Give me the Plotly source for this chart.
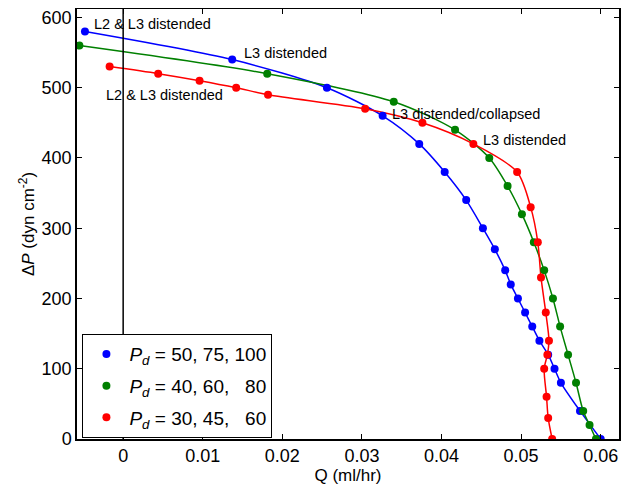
import plotly.graph_objects as go

# Pd = 50, 75, 100
q_blue = [-0.0048, 0.0137, 0.0256, 0.0326, 0.0372, 0.0404, 0.0431, 0.0452, 0.0467, 0.0480,
          0.0487, 0.0496, 0.0505, 0.0514, 0.0523, 0.0534, 0.0542, 0.0550, 0.0574, 0.0600]
p_blue = [580, 540, 500, 460, 420, 380, 340, 300, 270, 240,
          220, 200, 180, 160, 140, 120, 100, 80, 40, 0]

# Pd = 40, 60, 80
q_green = [-0.0055, 0.0181, 0.0340, 0.0417, 0.0460, 0.0483, 0.0501, 0.0516, 0.0529,
           0.0540, 0.0549, 0.0559, 0.0569, 0.0578, 0.0586, 0.0594]
p_green = [560, 520, 480, 440, 400, 360, 320, 280, 240,
           200, 160, 120, 80, 40, 20, 0]

# Pd = 30, 45, 60
q_red = [-0.0017, 0.0044, 0.0096, 0.0142, 0.0182, 0.0304, 0.0376, 0.0440, 0.0495,
         0.0512, 0.0521, 0.0525, 0.0531, 0.0535, 0.0533, 0.0529, 0.0532, 0.0534, 0.0539]
p_red = [530, 520, 510, 500, 490, 470, 450, 420, 380,
         330, 280, 230, 180, 140, 120, 100, 60, 30, 0]

series_names = ["<i>P<sub>d</sub></i> = 50, 75, 100",
                "<i>P<sub>d</sub></i> = 40, 60, \u00a0\u00a080",
                "<i>P<sub>d</sub></i> = 30, 45, \u00a0\u00a060"]
colors = ["#0000FF", "#008000", "#FF0000"]

x_ticks = [0, 0.01, 0.02, 0.03, 0.04, 0.05, 0.06]
x_ticklabels = ["0", "0.01", "0.02", "0.03", "0.04", "0.05", "0.06"]
y_ticks = [0, 100, 200, 300, 400, 500, 600]

notes = [
    ("L2 & L3 distended", -0.0039, 591),
    ("L3 distended", 0.0149, 549),
    ("L2 & L3 distended", -0.0024, 489),
    ("L3 distended/collapsed", 0.0335, 463),
    ("L3 distended", 0.0449, 425),
]

FONT = "Liberation Sans, Arial, sans-serif"

fig = go.Figure()
data = [(q_blue, p_blue), (q_green, p_green), (q_red, p_red)]
for i, ((q, p), name, c) in enumerate(zip(data, series_names, colors)):
    fig.add_trace(go.Scatter(x=q, y=p, mode="lines", line=dict(color=c, width=1.5, shape="spline", smoothing=0.8),
                             showlegend=False, hoverinfo="skip"))
for i, ((q, p), name, c) in enumerate(zip(data, series_names, colors)):
    fig.add_trace(go.Scatter(x=q, y=p, mode="markers", marker=dict(color=c, size=8),
                             name=name, legendgroup=str(i)))

fig.add_vline(x=0, line=dict(color="black", width=1.5))

for text, x, y in notes:
    fig.add_annotation(x=x, y=y, text=text, showarrow=False, xanchor="left", yanchor="middle",
                       font=dict(family=FONT, size=14.5, color="black"))

fig.update_layout(
    width=621, height=483,
    margin=dict(l=69, r=10, t=1, b=52),
    plot_bgcolor="white", paper_bgcolor="white",
    font=dict(family=FONT, size=18, color="black"),
    legend=dict(x=0.01, y=0.244, xanchor="left", yanchor="top", bordercolor="black", borderwidth=1,
                bgcolor="white", traceorder="grouped", tracegroupgap=4, itemwidth=36,
                font=dict(family=FONT, size=19, color="black")),
)
fig.update_xaxes(range=[-0.0058, 0.0623], tickvals=x_ticks, ticktext=x_ticklabels, automargin=False,
                 showgrid=False, zeroline=False, showline=True, linecolor="black", linewidth=1.5,
                 mirror="ticks", ticks="inside", ticklen=5, tickcolor="black",
                 tickfont=dict(size=18), ticklabeloverflow="allow",
                 title=dict(text="Q (ml/hr)", standoff=1, font=dict(size=17)))
fig.update_yaxes(range=[0, 612], tickvals=y_ticks, automargin=False,
                 showgrid=False, zeroline=False, showline=True, linecolor="black", linewidth=1.5,
                 mirror="ticks", ticks="inside", ticklen=5, tickcolor="black",
                 tickfont=dict(size=18), ticklabeloverflow="allow",
                 title=dict(text="Δ<i>P</i> (dyn cm<sup>-2</sup>)", standoff=3, font=dict(size=17)))

fig.write_html("out.html")
